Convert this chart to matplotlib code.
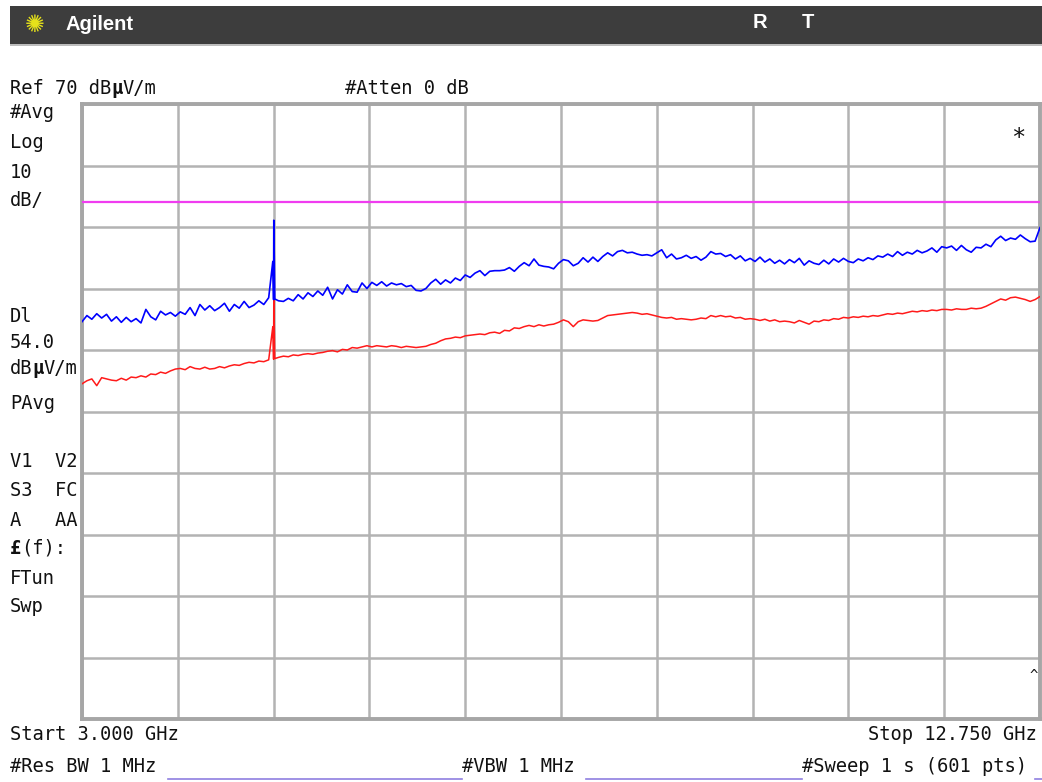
import numpy as np
import matplotlib
matplotlib.use('Agg')
import matplotlib.pyplot as plt
from matplotlib.patches import Rectangle
from matplotlib.lines import Line2D

# barrido 3.000 - 12.750 GHz, un valor cada 50 MHz
f_start = 3.0
f_stop = 12.75
paso = 0.05

traza_azul = [
    34.6, 35.6, 35.0, 35.9, 35.2, 35.8, 34.7, 35.4, 34.5, 35.3, 34.6, 35.1, 34.4, 36.6, 35.4, 34.9, 36.3, 35.7, 36.1, 35.5,
    36.2, 35.8, 36.9, 35.6, 37.4, 36.5, 37.2, 36.4, 36.9, 37.6, 36.3, 37.4, 36.8, 37.9, 36.9, 37.3, 38.0, 37.4, 38.5, 38.2,
    38.0, 37.9, 38.4, 38.0, 39.0, 38.3, 39.3, 38.7, 39.6, 38.9, 40.2, 38.3, 39.8, 39.1, 40.6, 39.5, 39.4, 40.9, 40.0, 41.0,
    40.5, 41.1, 40.4, 40.9, 40.6, 40.8, 40.3, 40.5, 39.7, 39.6, 40.0, 40.9, 41.5, 40.7, 41.4, 40.9, 41.7, 41.3, 42.2, 41.8,
    42.5, 42.9, 42.1, 42.8, 42.9, 42.9, 43.0, 43.4, 42.8, 43.6, 44.2, 43.7, 44.8, 43.8, 43.6, 43.5, 43.2, 44.1, 44.7, 44.5,
    43.7, 44.1, 45.0, 44.3, 45.1, 44.4, 45.2, 45.8, 45.3, 46.0, 46.2, 45.8, 45.9, 45.6, 45.4, 45.5, 45.3, 45.8, 46.3, 45.0,
    45.6, 44.8, 45.0, 45.4, 44.9, 45.2, 44.6, 45.1, 46.0, 45.6, 45.7, 45.2, 45.5, 44.8, 45.3, 44.5, 44.9, 44.4, 45.1, 44.3,
    44.8, 44.1, 44.6, 44.0, 44.7, 44.2, 44.9, 43.8, 44.5, 44.1, 43.9, 44.6, 44.0, 44.8, 44.3, 44.9, 44.4, 44.2, 44.8, 44.5,
    45.0, 44.7, 45.3, 45.1, 45.6, 45.2, 46.0, 45.4, 45.9, 45.6, 46.2, 45.8, 46.1, 46.6, 45.9, 46.8, 46.6, 46.9, 46.2, 47.0,
    46.3, 45.9, 46.7, 46.6, 47.2, 46.8, 47.9, 48.5, 47.8, 48.2, 48.0, 48.7, 48.1, 47.6, 47.7, 49.9,
]

traza_roja = [
    24.5, 25.0, 25.3, 24.2, 25.5, 25.3, 25.1, 25.0, 25.4, 25.1, 25.6, 25.5, 25.8, 25.6, 26.1, 26.0, 26.4, 26.2, 26.6, 26.9,
    27.0, 26.8, 27.3, 27.0, 26.9, 27.2, 26.9, 27.0, 27.3, 27.1, 27.4, 27.6, 27.5, 27.8, 28.0, 27.9, 28.2, 28.1, 28.4, 28.5,
    28.8, 29.0, 28.9, 29.2, 29.1, 29.3, 29.4, 29.3, 29.5, 29.6, 29.8, 29.9, 29.7, 30.1, 30.0, 30.4, 30.3, 30.5, 30.7, 30.5,
    30.7, 30.6, 30.5, 30.7, 30.6, 30.4, 30.6, 30.5, 30.4, 30.5, 30.6, 30.9, 31.1, 31.5, 31.8, 31.9, 32.1, 32.0, 32.3, 32.4,
    32.5, 32.6, 32.5, 32.8, 32.9, 32.7, 33.2, 33.1, 33.6, 33.5, 33.8, 34.0, 33.8, 34.1, 33.9, 34.1, 34.2, 34.5, 34.9, 34.6,
    33.8, 34.6, 34.9, 34.8, 34.7, 34.8, 35.2, 35.6, 35.7, 35.8, 35.9, 36.0, 36.1, 36.0, 35.8, 35.9, 35.7, 35.5, 35.3, 35.2,
    35.3, 35.0, 35.1, 35.0, 34.9, 35.0, 35.2, 35.1, 35.6, 35.4, 35.6, 35.4, 35.5, 35.2, 35.3, 35.0, 35.1, 35.0, 34.8, 35.0,
    34.7, 34.9, 34.6, 34.7, 34.6, 34.4, 34.8, 34.5, 34.2, 34.7, 34.6, 34.9, 34.8, 35.1, 35.0, 35.3, 35.2, 35.4, 35.3, 35.5,
    35.4, 35.6, 35.5, 35.7, 35.9, 35.8, 36.0, 35.9, 36.1, 36.3, 36.2, 36.4, 36.3, 36.5, 36.4, 36.6, 36.6, 36.5, 36.7, 36.6,
    36.6, 36.8, 36.7, 36.8, 37.1, 37.5, 37.9, 38.3, 38.1, 38.5, 38.6, 38.4, 38.2, 37.9, 38.2, 38.7,
]

# espuria cerca de 4.95 GHz (puntos del barrido de 601)
pico_freq = [4.942, 4.952, 4.962]
pico_azul = [44.4, 51.1, 38.3]
pico_roja = [33.8, 38.8, 28.6]

ref_nivel = 70
db_div = 10
linea_display = 54.0

W, H = 1042, 782
mono = 'DejaVu Sans Mono'
fs = 13.5
cw = 0.602 * fs * 100 / 72  # ancho de caracter en px

fig = plt.figure(figsize=(W / 100, H / 100), dpi=100)
fig.patch.set_facecolor('white')


def pos(x, y):
    return x / W, 1 - y / H


def texto(x, y, s, **kw):
    opts = dict(family=mono, fontsize=fs, va='center', ha='left', color='#111111')
    opts.update(kw)
    fig.text(*pos(x, y), s, **opts)


def texto_mu(x, y, izq, bold_char, der):
    texto(x, y, izq)
    texto(x + len(izq) * cw, y, bold_char, fontweight='bold')
    texto(x + (len(izq) + 1) * cw, y, der)


# barra de titulo
fig.add_artist(Rectangle(pos(10, 44), (W - 10) / W, 38 / H, transform=fig.transFigure,
                         facecolor='#3d3d3d', edgecolor='none'))
fig.add_artist(Rectangle(pos(10, 46), (W - 10) / W, 2 / H, transform=fig.transFigure,
                         facecolor='#bdbdbd', edgecolor='none'))
fig.text(*pos(35, 25), '✺', color='#e6e21a', fontsize=17, ha='center', va='center', family='DejaVu Sans')
fig.text(*pos(66, 25), 'Agilent', color='white', fontsize=14.5, fontweight='bold',
         family='Liberation Sans', va='center')
fig.text(*pos(760, 23), 'R', color='white', fontsize=14.5, fontweight='bold', family='Liberation Sans', va='center', ha='center')
fig.text(*pos(808, 23), 'T', color='white', fontsize=14.5, fontweight='bold', family='Liberation Sans', va='center', ha='center')

# area de la traza
x0, y0, x1, y1 = 82, 104, 1040, 719
ax = fig.add_axes([x0 / W, 1 - y1 / H, (x1 - x0) / W, (y1 - y0) / H])
ax.set_xlim(f_start, f_stop)
ax.set_ylim(ref_nivel - 10 * db_div, ref_nivel)
ax.set_xticks(np.linspace(f_start, f_stop, 11))
ax.set_yticks(np.arange(ref_nivel - 10 * db_div, ref_nivel + 1, db_div))
ax.tick_params(length=0, labelbottom=False, labelleft=False)
ax.grid(True, color='#b3b3b3', linewidth=1.8)
for s in ax.spines.values():
    s.set_color('#a6a6a6')
    s.set_linewidth(2.8)

freqs = f_start + paso * np.arange(len(traza_azul))
f_all = np.concatenate([freqs, pico_freq])
orden = np.argsort(f_all)
azul = np.concatenate([traza_azul, pico_azul])[orden]
roja = np.concatenate([traza_roja, pico_roja])[orden]
f_all = f_all[orden]

ax.axhline(linea_display, color='#f03cf0', linewidth=1.6, zorder=3)
ax.plot(f_all, roja, color='#ff1a1a', linewidth=1.1, zorder=4)
ax.plot(f_all, azul, color='#0000ff', linewidth=1.2, zorder=5)

# textos del analizador
texto_mu(10, 88, 'Ref 70 dB', 'µ', 'V/m')
texto(345, 88, '#Atten 0 dB')
izq = [('#Avg', 113), ('Log', 143), ('10', 172), ('dB/', 200), ('Dl', 316), ('54.0', 342),
       ('PAvg', 403), ('V1  V2', 462), ('S3  FC', 491), ('A   AA', 520), ('FTun', 578), ('Swp', 607)]
for s, y in izq:
    texto(10, y, s)
texto_mu(10, 368, 'dB', 'µ', 'V/m')
texto(10, 548, '£', fontweight='bold')
texto(10 + cw, 548, '(f):')
texto(1018, 138, '*', fontsize=17, ha='center')
texto(1034, 676, '^', fontsize=10, ha='center')

texto(10, 735, 'Start 3.000 GHz')
texto(1037, 735, 'Stop 12.750 GHz', ha='right')
texto(10, 766, '#Res BW 1 MHz')
texto(462, 766, '#VBW 1 MHz')
texto(802, 766, '#Sweep 1 s (601 pts)')
for xa, xb in [(168, 462), (586, 802), (1035, 1042)]:
    fig.add_artist(Line2D([xa / W, xb / W], [1 - 779 / H] * 2, transform=fig.transFigure,
                          color='#8f7fe0', linewidth=1.2))

fig.savefig('out.png', dpi=100)
